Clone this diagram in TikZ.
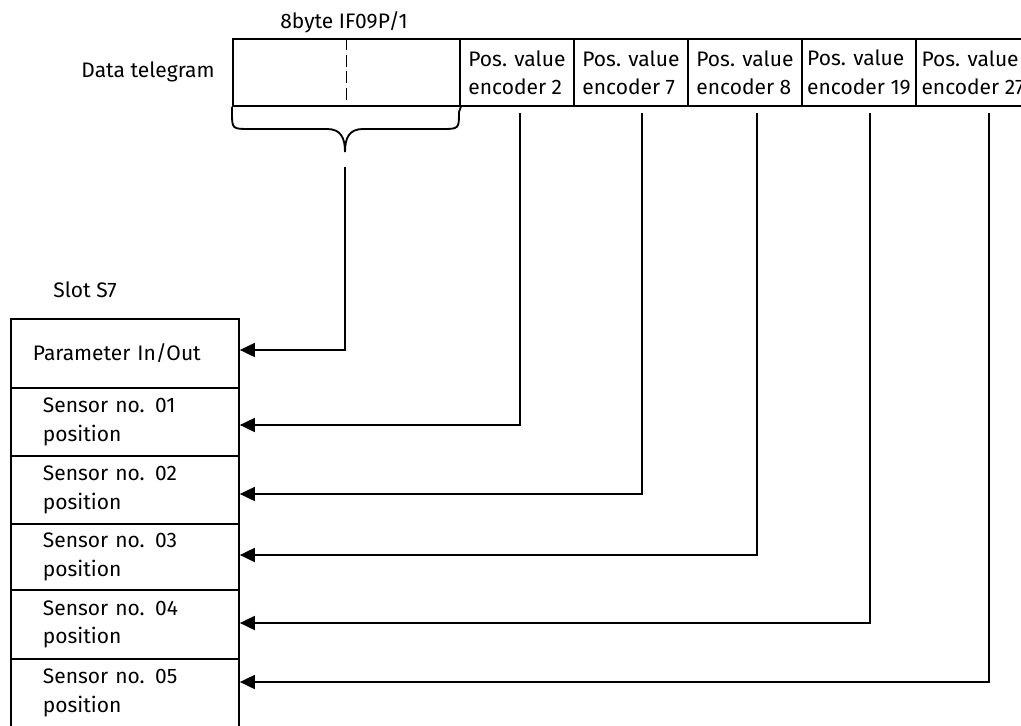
\documentclass[tikz,border=0pt]{standalone}
\usepackage{fontspec}
\setmainfont{Fira Sans}
\usetikzlibrary{arrows.meta}
\begin{document}
\begin{tikzpicture}[
  x=0.75pt, y=-0.75pt,
  line width=1.4pt,
  txt/.style={font=\fontsize{15.75pt}{21.2pt}\selectfont},
  cell/.style={txt, draw, anchor=north west, minimum width=85.5pt,
    minimum height=50.25pt, inner xsep=1pt, align=left},
  row/.style={txt, draw, anchor=north west, minimum width=171pt,
    inner ysep=0pt, inner xsep=24pt, text width=123pt, align=left},
  conn/.style={-{Triangle[length=11.25pt,width=10.5pt]}}
]
\useasboundingbox (0,0) rectangle (1021,725);

% headings
\node[txt, anchor=base] (hdr) at (344,28) {8byte IF09P/1};
\node[txt, anchor=base] (dtl) at (148,77) {Data telegram};
\node[txt, anchor=base] (slt) at (85,297) {Slot S7};

% data telegram: parameter block and encoder cells
\node[draw, anchor=north west, minimum width=170.25pt, minimum height=50.25pt,
  inner sep=0pt] (ifbox) at (232,38) {};
\draw[dash pattern=on 9pt off 3.5pt] (ifbox.north) -- (ifbox.south);
\node[cell] (c1) at (459,38) {Pos. value\\encoder 2};
\node[cell] (c2) at (573,38) {Pos. value\\encoder 7};
\node[cell] (c3) at (687,38) {Pos. value\\encoder 8};
\node[cell] (c4) at (801,38) {Pos. value\\encoder 19};
\node[cell] (c5) at (915,38) {Pos. value\\encoder 27};

% brace under the parameter block
\draw (ifbox.south west) -- (232,112) .. controls (232,129) .. (250,129)
  -- (327,129) .. controls (341,129) and (345,138) .. (345,152)
  .. controls (345,138) and (349,129) .. (363,129)
  -- (441,129) .. controls (459,129) .. (459,112) -- (ifbox.south east);

% slot S7 modules
\node[row, minimum height=51.75pt, inner xsep=16.5pt, text width=138pt] (p) at (10,318) {Parameter In/Out};
\node[row, minimum height=51pt] (s1) at (10,387) {Sensor no. 01\\position};
\node[row, minimum height=51pt] (s2) at (10,455) {Sensor no. 02\\position};
\node[row, minimum height=49.5pt] (s3) at (10,523) {Sensor no. 03\\position};
\node[row, minimum height=51.75pt] (s4) at (10,589) {Sensor no. 04\\position};
\node[row, minimum height=51pt] (s5) at (10,658) {Sensor no. 05\\position};

% connector start points
\coordinate (b)  at (345,167);
\coordinate (t1) at (520,113);
\coordinate (t2) at (642,113);
\coordinate (t3) at (757,113);
\coordinate (t4) at (870,113);
\coordinate (t5) at (989,113);

% connectors
\draw[conn] (b)  |- (p.east  |- 0,350);
\draw[conn] (t1) |- (s1.east |- 0,425);
\draw[conn] (t2) |- (s2.east |- 0,494);
\draw[conn] (t3) |- (s3.east |- 0,555);
\draw[conn] (t4) |- (s4.east |- 0,623);
\draw[conn] (t5) |- (s5.east |- 0,682);
\end{tikzpicture}
\end{document}
